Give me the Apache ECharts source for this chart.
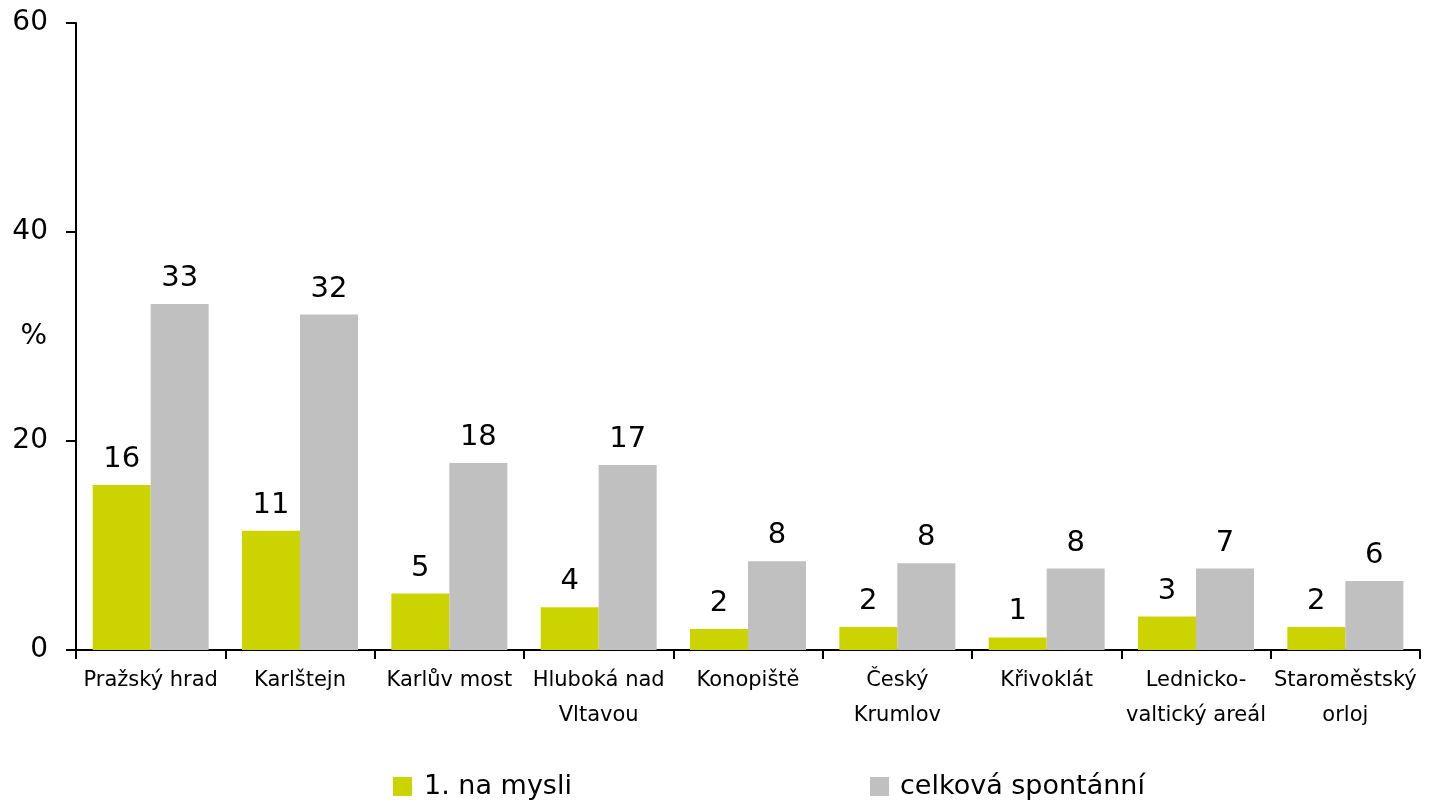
<!DOCTYPE html>
<html>
<head>
<meta charset="utf-8">
<script src="https://cdn.jsdelivr.net/npm/echarts@6/dist/echarts.min.js"></script>
<style>
  html, body { margin: 0; padding: 0; background: #fff; }
  #chart { width: 1437px; height: 802px; }
</style>
</head>
<body>
<div id="chart"></div>
<script>
const categories = [
  'Pražský hrad', 'Karlštejn', 'Karlův most', 'Hluboká nad\nVltavou', 'Konopiště',
  'Český\nKrumlov', 'Křivoklát', 'Lednicko-\nvaltický areál', 'Staroměstský\norloj'
]
const firstValues = [15.8, 11.4, 5.4, 4.1, 2.0, 2.2, 1.2, 3.2, 2.2]
const firstLabels = ['16', '11', '5', '4', '2', '2', '1', '3', '2']
const totalValues = [33.1, 32.1, 17.9, 17.7, 8.5, 8.3, 7.8, 7.8, 6.6]
const totalLabels = ['33', '32', '18', '17', '8', '8', '8', '7', '6']
const yTicks = [0, 20, 40, 60]

const font = 'DejaVu Sans'
const chart = echarts.init(document.getElementById('chart'))

const barLabel = (labels) => ({
  show: true,
  position: 'top',
  distance: 11,
  color: '#000',
  fontFamily: font,
  fontSize: 29,
  formatter: p => labels[p.dataIndex]
})

chart.setOption({
  animation: false,
  grid: { left: 76, right: 17, top: 23, bottom: 152, outerBoundsMode: 'none' },
  legend: [
    {
      left: 388, top: 768,
      itemWidth: 19, itemHeight: 19,
      icon: 'rect',
      data: ['1. na mysli'],
      textStyle: { fontFamily: font, fontSize: 27, color: '#000', padding: [0, 0, 0, 7] }
    },
    {
      left: 865, top: 768,
      itemWidth: 19, itemHeight: 19,
      icon: 'rect',
      data: ['celková spontánní'],
      textStyle: { fontFamily: font, fontSize: 27, color: '#000', padding: [0, 0, 0, 6] }
    }
  ],
  xAxis: {
    type: 'category',
    data: categories,
    axisLine: { lineStyle: { color: '#000', width: 2 } },
    axisTick: { show: true, length: 9, lineStyle: { color: '#000', width: 2 } },
    axisLabel: {
      interval: 0,
      margin: 13,
      color: '#000',
      fontFamily: font,
      fontSize: 21,
      lineHeight: 35
    }
  },
  yAxis: {
    type: 'value',
    min: yTicks[0],
    max: yTicks[yTicks.length - 1],
    interval: 20,
    name: '%',
    nameLocation: 'middle',
    nameRotate: 0,
    nameGap: 29,
    nameMoveOverlap: false,
    nameTextStyle: { color: '#000', fontFamily: font, fontSize: 28, padding: [0, 0, 24, 0] },
    splitLine: { show: false },
    axisLine: { show: true, lineStyle: { color: '#000', width: 2 } },
    axisTick: { show: true, length: 10, lineStyle: { color: '#000', width: 2 } },
    axisLabel: { margin: 28, color: '#000', fontFamily: font, fontSize: 28 }
  },
  series: [
    {
      name: '1. na mysli',
      type: 'bar',
      data: firstValues,
      barWidth: 58,
      barGap: '0%',
      itemStyle: { color: '#ccd400' },
      label: barLabel(firstLabels)
    },
    {
      name: 'celková spontánní',
      type: 'bar',
      data: totalValues,
      barWidth: 58,
      barGap: '0%',
      itemStyle: { color: '#c0c0c0' },
      label: barLabel(totalLabels)
    }
  ]
})
</script>
</body>
</html>
